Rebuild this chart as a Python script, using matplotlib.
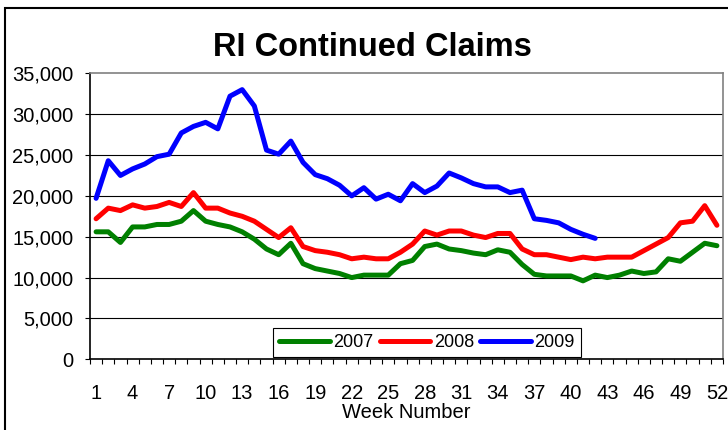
import matplotlib
matplotlib.use('Agg')
import matplotlib.pyplot as plt
import matplotlib.patches as mpatches
from matplotlib.ticker import FuncFormatter
import numpy as np

weeks = list(range(1, 53))
claims_2007 = [15600, 15600, 14300, 16200, 16200, 16500, 16500, 16900, 18200, 16900,
               16500, 16200, 15600, 14700, 13500, 12800, 14200, 11700, 11100, 10800,
               10500, 10000, 10300, 10300, 10300, 11700, 12100, 13800, 14100, 13500,
               13300, 13000, 12800, 13400, 13100, 11600, 10400, 10200, 10200, 10200,
               9600, 10300, 10000, 10300, 10800, 10500, 10700, 12300, 12000, 13100,
               14200, 13900]
claims_2008 = [17200, 18500, 18200, 18900, 18500, 18700, 19200, 18700, 20400, 18500,
               18500, 17900, 17500, 16900, 15900, 14900, 16100, 13800, 13300, 13100,
               12800, 12300, 12500, 12300, 12300, 13100, 14100, 15700, 15200, 15700,
               15700, 15200, 14900, 15400, 15400, 13500, 12800, 12800, 12500, 12200,
               12500, 12300, 12500, 12500, 12500, 13300, 14100, 14900, 16700, 16900,
               18800, 16400]
claims_2009 = [19700, 24300, 22500, 23300, 23900, 24800, 25100, 27700, 28500, 29000,
               28200, 32200, 33000, 31000, 25600, 25100, 26700, 24100, 22600, 22100,
               21300, 20000, 21000, 19600, 20200, 19400, 21500, 20400, 21200, 22800,
               22200, 21500, 21100, 21100, 20400, 20700, 17200, 17000, 16700, 15900,
               15300, 14800]
years = ['2007', '2008', '2009']
colors = ['#008000', '#FF0000', '#0000FF']
week_labels = list(range(1, 53, 3))

plt.rcParams['font.family'] = ['Liberation Sans', 'DejaVu Sans']

W, H = 728, 430
fig = plt.figure(figsize=(W / 100, H / 100), dpi=100)
ax = fig.add_axes([90 / W, 1 - 359.3 / H, (723 - 90) / W, (359.3 - 73.3) / H])

# outer chart border (only left and top fall inside the picture)
fig.patches.append(mpatches.Rectangle((4.5 / W, -0.1), 1.2, 1.1 - 8 / H,
                                      transform=fig.transFigure, fill=False,
                                      edgecolor='black', linewidth=1.5))

for data, year, c in zip([claims_2007, claims_2008, claims_2009], years, colors):
    ax.plot(weeks[:len(data)], data, color=c, linewidth=3.6, label=year,
            solid_joinstyle='round', solid_capstyle='round')

ax.set_xlim(0.5, 52.5)
ax.set_ylim(0, 35000)
ax.set_yticks(range(0, 35001, 5000))
ax.yaxis.set_major_formatter(FuncFormatter(lambda v, p: f'{int(v):,}'))
ax.set_xticks(week_labels)
ax.set_xticks(np.arange(0.5, 53, 1), minor=True)
ax.tick_params(axis='x', which='major', length=0, pad=18, labelsize=14.5)
ax.tick_params(axis='x', which='minor', length=3.6, width=0.8, color='black')
ax.tick_params(axis='y', length=3.6, width=0.8, pad=8.5, labelsize=14.5)

for y in range(5000, 35000, 5000):
    ax.axhline(y, color='black', linewidth=0.8, zorder=0.5)

for s in ['left', 'bottom']:
    ax.spines[s].set_color('black')
    ax.spines[s].set_linewidth(1.2)
for s in ['top', 'right']:
    ax.spines[s].set_color('#808080')
    ax.spines[s].set_linewidth(1.2)

ax.set_xlabel('Week Number', fontsize=14.5)
ax.xaxis.set_label_coords(0.5, -0.152)

fig.text(372 / W, 1 - 48 / H, 'RI Continued Claims', ha='center', va='center',
         fontsize=23.5, fontweight='bold')

leg = ax.legend(loc='lower left', bbox_to_anchor=(272.7 / W, 1 - 357.3 / H),
                bbox_transform=fig.transFigure, ncol=3, fontsize=13,
                frameon=True, fancybox=False, framealpha=1, edgecolor='black',
                borderaxespad=0, borderpad=0.35, handlelength=2.8,
                handletextpad=0.2, columnspacing=0.35)
leg.get_frame().set_linewidth(0.8)

fig.savefig('out.png', dpi=100)
